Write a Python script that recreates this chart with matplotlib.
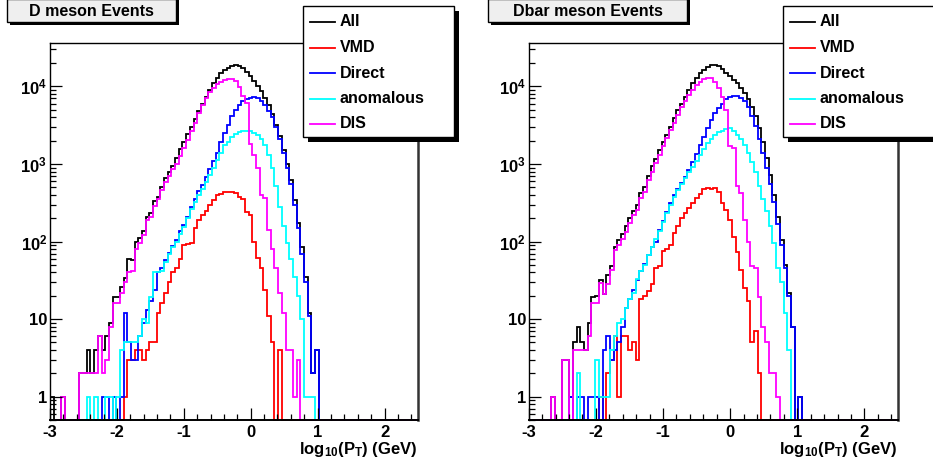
import numpy as np
import matplotlib
matplotlib.use("Agg")
import matplotlib.pyplot as plt
from matplotlib.patches import Rectangle
from matplotlib.lines import Line2D
from matplotlib.ticker import MultipleLocator, LogLocator, NullFormatter

plt.rcParams['font.family'] = 'Liberation Sans'
plt.rcParams['font.weight'] = 'bold'
plt.rcParams['mathtext.fontset'] = 'custom'
plt.rcParams['mathtext.rm'] = 'Liberation Sans:bold'
plt.rcParams['mathtext.it'] = 'Liberation Sans:bold'
plt.rcParams['mathtext.bf'] = 'Liberation Sans:bold'
plt.rcParams['axes.unicode_minus'] = False

# histogram binning: 100 bins in log10(pT) from -3 to 2.5
x_lo, x_hi, n_bins = -3.0, 2.5, 100

labels = ['All', 'VMD', 'Direct', 'anomalous', 'DIS']
colors = ['black', '#ff0000', '#0000ff', '#00ffff', '#ff00ff']

# ---- D meson (bin contents from bin 0, trailing bins are empty) ----
d_all = [1, 0, 0, 1, 0, 0, 0, 0, 2, 2,
         4, 2, 4, 6, 4, 6, 9, 19, 19, 26,
         34, 60, 57, 100, 112, 135, 210, 235, 330, 380,
         510, 660, 780, 950, 1200, 1550, 1950, 2450, 3000, 3800,
         4800, 6000, 7400, 9000, 11000, 12800, 14800, 16300, 17500, 18500,
         19000, 18600, 17300, 15500, 13500, 11800, 10200, 8800, 7200, 5800,
         4400, 3200, 2300, 1500, 1000, 620, 340, 175, 85, 35,
         12, 2, 4]
d_vmd = [0, 0, 0, 0, 0, 0, 0, 0, 0, 0,
         0, 0, 0, 0, 0, 0, 0, 0, 0, 0,
         1, 3, 3, 4, 4, 3, 4, 5, 5, 12,
         16, 22, 30, 40, 46, 60, 91, 92, 96, 150,
         190, 220, 250, 300, 340, 400, 410, 430, 440, 440,
         420, 380, 350, 240, 220, 100, 61, 45, 24, 11,
         5, 0, 4]
d_dir = [0, 0, 0, 0, 0, 0, 0, 0, 0, 0,
         0, 0, 0, 0, 1, 1, 0, 1, 0, 1,
         12, 5, 3, 3, 6, 9, 13, 17, 24, 40,
         46, 58, 72, 88, 105, 135, 165, 210, 280, 350,
         450, 540, 680, 860, 1100, 1400, 1900, 2500, 3200, 4200,
         5000, 5800, 6400, 6900, 7200, 7300, 7000, 6500, 5800, 4800,
         4000, 3000, 2100, 1400, 900, 550, 300, 150, 70, 30,
         11, 2, 4]
d_ano = [0, 0, 0, 0, 0, 0, 0, 0, 0, 0,
         1, 0, 1, 0, 0, 1, 1, 0, 1, 4,
         5, 5, 5, 5, 6, 10, 9, 19, 40, 40,
         42, 55, 70, 85, 100, 125, 155, 200, 260, 320,
         400, 480, 580, 720, 900, 1130, 1400, 1750, 1950, 2200,
         2450, 2550, 2650, 2700, 2650, 2500, 2350, 2100, 1750, 1300,
         900, 520, 280, 160, 95, 60, 35, 20, 10, 1,
         1, 1]
d_dis = [0, 0, 0, 1, 0, 0, 0, 0, 2, 2,
         2, 2, 2, 6, 2, 3, 8, 16, 16, 22,
         30, 40, 42, 80, 95, 120, 190, 210, 290, 350,
         460, 590, 700, 850, 1000, 1250, 1600, 2050, 2650, 3400,
         4500, 5800, 7100, 8400, 9600, 10600, 11500, 12200, 12600, 12600,
         11900, 9800, 7500, 6200, 1800, 1300, 900, 400, 360, 140,
         80, 46, 22, 12, 4, 4, 1, 3]

# ---- Dbar meson ----
b_all = [0, 0, 0, 0, 0, 0, 1, 0, 0, 3,
         3, 1, 5, 8, 5, 4, 9, 19, 20, 32,
         21, 37, 48, 86, 105, 125, 160, 200, 250, 300,
         420, 510, 700, 930, 1150, 1510, 1900, 2380, 3000, 3900,
         4900, 6000, 7300, 8900, 11000, 12900, 14800, 16500, 18000, 19000,
         19000, 18100, 16700, 15100, 13700, 12200, 11000, 9500, 8200, 6900,
         5500, 4100, 2900, 1900, 1200, 720, 400, 210, 105, 50,
         22, 8, 0, 1]
b_vmd = [0, 0, 0, 0, 0, 0, 0, 0, 0, 0,
         0, 0, 0, 0, 0, 0, 0, 0, 0, 1,
         0, 2, 3, 6, 1, 6, 6, 4, 5, 3,
         18, 20, 23, 28, 45, 48, 75, 80, 90, 130,
         160, 200, 233, 270, 310, 360, 410, 470, 490, 480,
         490, 430, 310, 257, 190, 116, 74, 43, 25, 17,
         5, 7, 2]
b_dir = [0, 0, 0, 0, 0, 0, 0, 0, 0, 0,
         0, 1, 0, 1, 1, 0, 1, 1, 1, 0,
         4, 6, 3, 4, 5, 8, 14, 18, 24, 32,
         42, 52, 68, 85, 100, 140, 185, 240, 310, 400,
         480, 570, 680, 830, 1050, 1350, 1750, 2250, 2900, 3700,
         4500, 5300, 6000, 6800, 7300, 7600, 7600, 7200, 6500, 5400,
         4200, 3100, 2100, 1400, 900, 560, 320, 170, 90, 45,
         20, 8, 0, 1]
b_ano = [0, 0, 0, 0, 0, 0, 0, 0, 0, 0,
         0, 0, 0, 2, 0, 0, 0, 0, 3, 1,
         1, 1, 4, 6, 9, 10, 14, 18, 22, 33,
         42, 50, 68, 85, 107, 135, 180, 230, 300, 380,
         460, 560, 660, 780, 920, 1100, 1300, 1550, 1850, 2100,
         2400, 2600, 2700, 2850, 2900, 2650, 2350, 2100, 1750, 1400,
         1050, 780, 520, 350, 250, 160, 95, 45, 30, 12,
         4]
b_dis = [0, 0, 0, 0, 0, 0, 1, 0, 0, 3,
         3, 0, 4, 4, 4, 4, 6, 16, 16, 29,
         21, 28, 43, 78, 90, 107, 134, 172, 220, 257,
         360, 440, 620, 800, 1030, 1300, 1700, 2150, 2750, 3400,
         4300, 5400, 6500, 7800, 9100, 10500, 11500, 12300, 12800, 13000,
         11500, 9500, 7400, 5000, 1700, 1600, 520, 420, 190, 100,
         48, 45, 19, 8, 5, 2, 2, 1]

W, H = 933, 467
Y_MIN, Y_MAX = 0.5, 36000


def fx(x):
    return x / W


def fy(y):
    return 1 - y / H


def full(lst):
    v = np.zeros(n_bins)
    v[:len(lst)] = lst
    return v


fig = plt.figure(figsize=(W / 100, H / 100), dpi=100)
edges = np.linspace(x_lo, x_hi, n_bins + 1)

# (axis left px, axis right px, title, title box x0, x1, legend x0, series)
panels = [
    (50, 418, 'D meson Events', 7, 176, 303, [d_all, d_vmd, d_dir, d_ano, d_dis]),
    (528.7, 898, 'Dbar meson Events', 488, 687, 783, [b_all, b_vmd, b_dir, b_ano, b_dis]),
]

ax_top, ax_bot = 43.3, 420

for x0, x1, title, tx0, tx1, lx0, series in panels:
    ax = fig.add_axes([fx(x0), fy(ax_bot), (x1 - x0) / W, (ax_bot - ax_top) / H])
    for vals, c in zip(series, colors):
        v = full(vals)
        v = np.where(v > 0, v, Y_MIN)
        ax.stairs(v, edges, baseline=None, color=c, lw=1.3, clip_on=False)

    ax.set_yscale('log')
    ax.set_xlim(x_lo, x_hi)
    ax.set_ylim(Y_MIN, Y_MAX)
    ax.set_xticks([-3, -2, -1, 0, 1, 2])
    ax.set_xticklabels(['-3', '-2', '-1', '0', '1', '2'])
    ax.xaxis.set_minor_locator(MultipleLocator(0.2))
    ax.set_yticks([1, 10, 100, 1000, 10000])
    ax.set_yticklabels(['1', '10', r'$10^{2}$', r'$10^{3}$', r'$10^{4}$'])
    ax.yaxis.set_minor_locator(LogLocator(base=10, subs=np.arange(2, 10)))
    ax.yaxis.set_minor_formatter(NullFormatter())
    ax.tick_params(which='both', direction='in', top=False, right=False,
                   labelsize=12, width=0.9)
    ax.tick_params(which='major', length=8.5)
    ax.tick_params(which='minor', length=4)
    ax.tick_params(axis='x', pad=3.5)
    ax.tick_params(axis='y', pad=2)
    for s in ['left', 'top']:
        ax.spines[s].set_linewidth(1.0)
    ax.spines['right'].set_linewidth(1.8)
    ax.spines['right'].set_color('#333333')
    ax.spines['bottom'].set_linewidth(1.4)

    # axis title sits under the tick labels, flush with the right end
    fig.text(fx(x1), fy(454), r'log$_{10}$(P$_{T}$) (GeV)',
             ha='right', va='baseline', fontsize=12)

    # title box with shadow
    fig.add_artist(Rectangle((fx(tx0 + 3), fy(25)), (tx1 - tx0) / W, 26 / H,
                             transform=fig.transFigure, fc='black', ec='none'))
    fig.add_artist(Rectangle((fx(tx0), fy(21.7)), (tx1 - tx0) / W, 23 / H,
                             transform=fig.transFigure, fc='#efefef', ec='black', lw=1))
    fig.text(fx((tx0 + tx1) / 2), fy(11), title, ha='center', va='center', fontsize=11.5)

    # legend box with shadow
    lw_px, lh_px = 151, 131
    fig.add_artist(Rectangle((fx(lx0 + 5), fy(6 + lh_px + 5)), lw_px / W, lh_px / H,
                             transform=fig.transFigure, fc='black', ec='none'))
    fig.add_artist(Rectangle((fx(lx0), fy(6 + lh_px)), lw_px / W, lh_px / H,
                             transform=fig.transFigure, fc='white', ec='black', lw=1))
    for k, (lab, c) in enumerate(zip(labels, colors)):
        yy = 22 + 25.5 * k
        fig.add_artist(Line2D([fx(lx0 + 7), fx(lx0 + 32)], [fy(yy), fy(yy)],
                              transform=fig.transFigure, color=c, lw=1.3))
        fig.text(fx(lx0 + 37), fy(yy), lab, ha='left', va='center', fontsize=11.5)

fig.savefig('out.png', dpi=100)
